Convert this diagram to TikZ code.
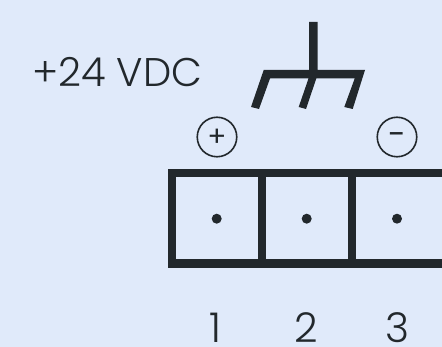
\documentclass[tikz,border=0pt]{standalone}
\usepackage{fontspec}
\setmainfont{Poppins Light}
\newfontfamily\polfont{Poppins}
\definecolor{bg}{HTML}{E0EAFA}
\definecolor{ink}{HTML}{22282C}
\tikzset{
  bar/.style={draw=ink,line width=8.3pt},
  pin/.style={circle,fill=ink,minimum size=10pt,inner sep=0pt,draw=none},
  pol/.style={circle,draw=ink,line width=1.6pt,minimum size=39.5pt,inner sep=0pt,text=ink,font=\polfont\fontsize{28}{28}\selectfont},
  lab/.style={text=ink,inner sep=0pt,anchor=base,font=\fontsize{41}{41}\selectfont},
}
\begin{document}
\begin{tikzpicture}[x=1pt,y=-1pt]
\useasboundingbox (0,0) rectangle (442,347);
\fill[bg] (0,0) rectangle (442,347);
\clip (0,0) rectangle (442,347);
% ground symbol
\fill[ink] (309,22) -- (317.5,22) -- (317.5,70) -- (365,70) -- (352.7,109) -- (344.3,107) -- (354.7,78.5) -- (316.3,78.5) -- (306,109) -- (298.7,107) -- (308.5,78.5) -- (270,78.5) -- (259,109) -- (251,107) -- (263.7,70) -- (309,70) -- cycle;
% terminal block
\draw[bar] (171.7,173) rectangle (446,263.5);
\draw[bar] (262,173) -- (262,263.5);
\draw[bar] (352,173) -- (352,263.5);
\node[pin] (p1) at (216.7,218.7) {};
\node[pin] (p2) at (306.7,218.7) {};
\node[pin] (p3) at (397,218.7) {};
\node[pol] (plus) at (217,137) {\raisebox{-9.5pt}[0pt][0pt]{+}};
\node[pol] (minus) at (397,137) {\raisebox{-8.5pt}[0pt][0pt]{\fontsize{32}{32}\selectfont -}};
\node[lab,anchor=base west,font=\fontsize{40}{40}\selectfont] (v) at (32,87) {+24 VDC};
\node[lab] (n1) at (215.5,343) {1};
\node[lab] (n2) at (306.5,343) {2};
\node[lab] (n3) at (397,343) {3};
\end{tikzpicture}
\end{document}
